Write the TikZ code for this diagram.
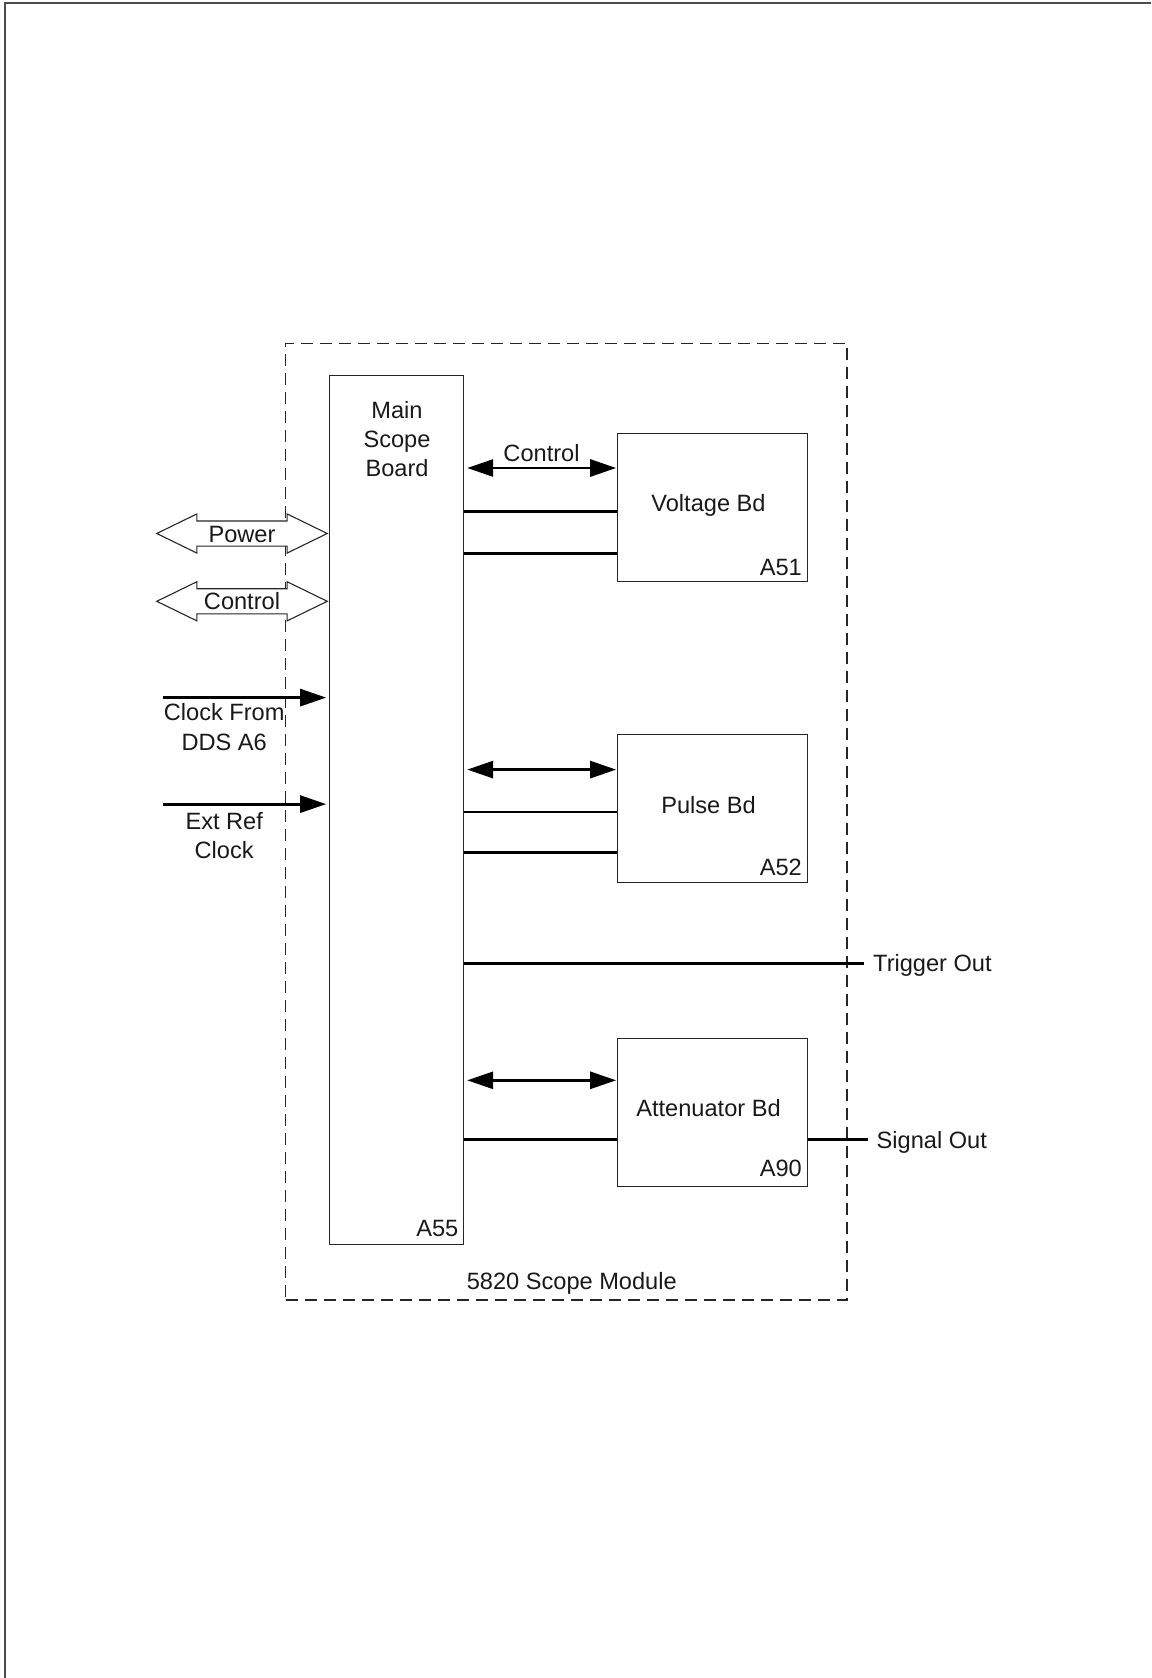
\documentclass[tikz,border=0pt]{standalone}
\usepackage{fontspec}
\setmainfont{Liberation Sans}
\usetikzlibrary{arrows.meta,shapes.arrows}
\tikzset{
  box/.style={draw=black!85, line width=1.2pt, rectangle, inner sep=0pt},
  frame/.style={draw=black!85, line width=1.5pt, dash pattern=on 12pt off 7pt, rectangle, inner sep=0pt},
  lbl/.style={font=\fontsize{23.6}{29.2}\selectfont, text=black!90, inner sep=0pt, align=center},
  conn/.style={draw=black, line width=2.8pt},
  dblarr/.style={conn, {Triangle[length=26pt,width=17pt]}-{Triangle[length=26pt,width=17pt]}},
  inarr/.style={conn, -{Triangle[length=26pt,width=17pt]}},
  hollow/.style={double arrow, draw=black!85, line width=1.1pt, fill=white,
    double arrow tip angle=52, double arrow head extend=7pt,
    minimum height=170.5pt, inner xsep=0pt, inner ysep=0pt,
    text height=20.5pt, text depth=3.5pt,
    font=\fontsize{23.6}{29.2}\selectfont, text=black!90},
  pageline/.style={draw=black!70, line width=2pt}
}
\begin{document}
\begin{tikzpicture}[x=1pt,y=-1pt]
\useasboundingbox (0,0) rectangle (1151,1678);
% page border lines
\coordinate (pgtl) at (5,3);
\coordinate (pgtr) at (1151,3);
\coordinate (pgbl) at (5,1678);
\draw[pageline] (pgtr) -- (pgtl) -- (pgbl);

% module frame
\node[frame, minimum width=561.4pt, minimum height=956.3pt] (module) at (566.2,821.7) {};
\node[lbl, anchor=base] (modlbl) at (571.8,1289) {5820 Scope Module};

% main board
\node[box, minimum width=133.8pt, minimum height=868.4pt] (main) at (396.7,810) {};
\node[lbl, anchor=base] (maintxt) at (397,476.7) {Main\\Scope\\Board};
\node[lbl, anchor=base east] (a55) at (458.5,1236.5) {A55};

% voltage board
\node[box, minimum width=189.5pt, minimum height=147.8pt] (volt) at (712.5,507.5) {};
\node[lbl, anchor=base] (volttxt) at (708.5,511.7) {Voltage Bd};
\node[lbl, anchor=base east] (a51) at (802,575) {A51};

% pulse board
\node[box, minimum width=189.5pt, minimum height=147.8pt] (pulse) at (712.5,808.4) {};
\node[lbl, anchor=base] (pulsetxt) at (708.5,813) {Pulse Bd};
\node[lbl, anchor=base east] (a52) at (802,875.5) {A52};

% attenuator board
\node[box, minimum width=189.5pt, minimum height=147.8pt] (atten) at (712.5,1112.5) {};
\node[lbl, anchor=base] (attentxt) at (708.5,1116.7) {Attenuator Bd};
\node[lbl, anchor=base east] (a90) at (802,1176.5) {A90};

% rows
\coordinate (va) at (0,468);
\coordinate (v1) at (0,511.8);
\coordinate (v2) at (0,553.8);
\coordinate (pa) at (0,769.6);
\coordinate (p1) at (0,812);
\coordinate (p2) at (0,852.8);
\coordinate (aa) at (0,1080.3);
\coordinate (a1) at (0,1139.3);

% connectors to voltage board
\draw[dblarr, shorten <=3pt, shorten >=1pt] (main.east |- va) -- (volt.west |- va);
\node[lbl, anchor=base] (ctrltxt) at (541.5,461.7) {Control};
\draw[conn] (main.east |- v1) -- (volt.west |- v1);
\draw[conn] (main.east |- v2) -- (volt.west |- v2);

% connectors to pulse board
\draw[dblarr, shorten <=3pt, shorten >=1pt] (main.east |- pa) -- (pulse.west |- pa);
\draw[conn] (main.east |- p1) -- (pulse.west |- p1);
\draw[conn] (main.east |- p2) -- (pulse.west |- p2);

% trigger out
\coordinate (trigend) at (864,963.5);
\draw[conn] (main.east |- trigend) -- (trigend);
\node[lbl, anchor=base west] (trig) at (873,971.7) {Trigger Out};

% connectors to attenuator board
\draw[dblarr, shorten <=3pt, shorten >=1pt] (main.east |- aa) -- (atten.west |- aa);
\draw[conn] (main.east |- a1) -- (atten.west |- a1);
\coordinate (sigend) at (868,1139.3);
\draw[conn] (atten.east |- sigend) -- (sigend);
\node[lbl, anchor=base west] (sig) at (876.5,1148.3) {Signal Out};

% left side inputs
\node[hollow] (power) at (242,533.5) {Power};
\node[hollow] (control) at (242,601.3) {Control};

\coordinate (clkstart) at (162.7,697.6);
\draw[inarr, shorten >=3pt] (clkstart) -- (main.west |- clkstart);
\node[lbl, anchor=base] (clktxt) at (224.2,750) {Clock From\\DDS A6};

\coordinate (extstart) at (162.7,804.1);
\draw[inarr, shorten >=3pt] (extstart) -- (main.west |- extstart);
\node[lbl, anchor=base] (exttxt) at (224.2,858.7) {Ext Ref\\Clock};
\end{tikzpicture}
\end{document}
